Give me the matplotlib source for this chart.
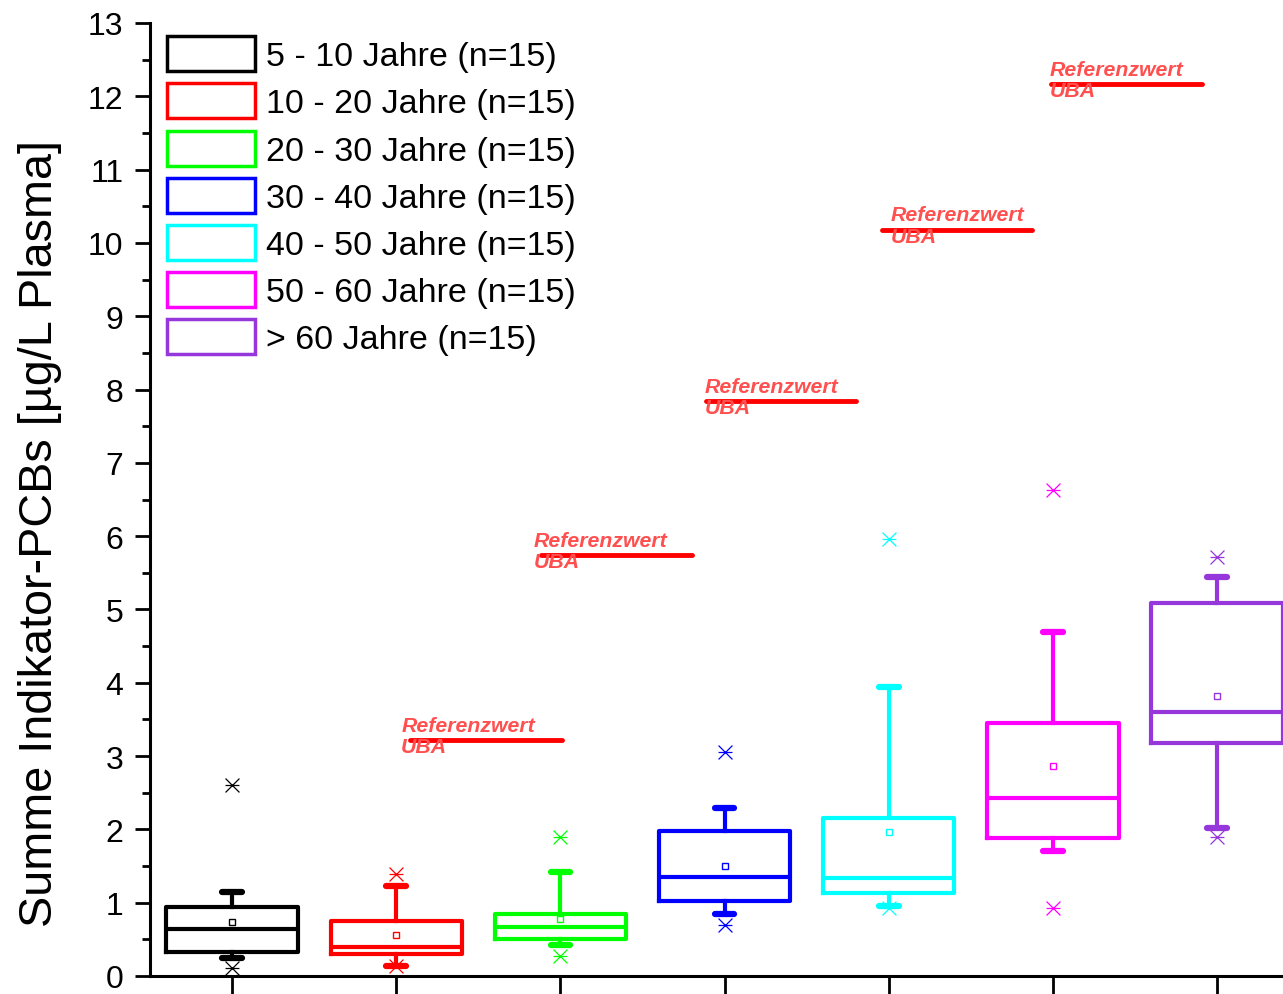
import numpy as np
import matplotlib
matplotlib.use("Agg")
import matplotlib.pyplot as plt
from matplotlib.patches import Patch
from matplotlib.path import Path

plt.rcParams['font.family'] = ['Liberation Sans', 'DejaVu Sans']

# Altersgruppen und Boxplot-Kennwerte
gruppen = ['5 - 10 Jahre (n=15)', '10 - 20 Jahre (n=15)', '20 - 30 Jahre (n=15)',
           '30 - 40 Jahre (n=15)', '40 - 50 Jahre (n=15)', '50 - 60 Jahre (n=15)',
           '> 60 Jahre (n=15)']
farben = ['#000000', '#FF0000', '#00FF00', '#0000FF', '#00FFFF', '#FF00FF', '#9637DC']

q1 = [0.33, 0.30, 0.50, 1.02, 1.13, 1.88, 3.18]
median = [0.64, 0.40, 0.67, 1.35, 1.34, 2.43, 3.60]
q3 = [0.94, 0.75, 0.85, 1.98, 2.16, 3.45, 5.09]
whisk_lo = [0.25, 0.14, 0.42, 0.85, 0.95, 1.70, 2.02]
whisk_hi = [1.15, 1.23, 1.42, 2.29, 3.94, 4.69, 5.44]
mittel = [0.74, 0.56, 0.78, 1.50, 1.96, 2.87, 3.82]
ausr_lo = [0.11, 0.14, 0.27, 0.70, 0.93, 0.93, 1.90]
ausr_hi = [2.61, 1.39, 1.90, 3.06, 5.96, 6.63, 5.72]

# Referenzwerte UBA
ref_werte = [3.22, 5.74, 7.84, 10.18, 12.17]
ref_linie_x = [(2.085, 3.01), (2.88, 3.80), (3.89, 4.80), (4.96, 5.87), (5.99, 6.91)]
ref_text_x = [2.03, 2.84, 3.88, 5.01, 5.98]

# Sternmarker (x mit Querstrich)
stern = Path([(-1, -1), (1, 1), (-1, 1), (1, -1), (-1, 0), (1, 0)],
             [Path.MOVETO, Path.LINETO, Path.MOVETO, Path.LINETO, Path.MOVETO, Path.LINETO])

fig = plt.figure(figsize=(12.83, 9.95), dpi=100)
ax = fig.add_axes([150/1283, 18/995, 1133/1283, 953/995])

for i in range(len(gruppen)):
    st = [dict(med=median[i], q1=q1[i], q3=q3[i], whislo=whisk_lo[i], whishi=whisk_hi[i],
               mean=mittel[i], fliers=[ausr_lo[i], ausr_hi[i]])]
    c = farben[i]
    ax.bxp(st, positions=[i + 1], widths=0.8, showmeans=True, capwidths=0.12,
           boxprops=dict(color=c, linewidth=3),
           medianprops=dict(color=c, linewidth=3),
           whiskerprops=dict(color=c, linewidth=3),
           capprops=dict(color=c, linewidth=4.5, solid_capstyle='round'),
           meanprops=dict(marker='s', markersize=5, markerfacecolor='none',
                          markeredgecolor=c, markeredgewidth=1),
           flierprops=dict(marker=stern, markersize=10, markeredgecolor=c,
                           markeredgewidth=0.9, linestyle='none'))

for w, (x0, x1), xt in zip(ref_werte, ref_linie_x, ref_text_x):
    ax.plot([x0, x1], [w, w], color='#FF0000', linewidth=3.5, solid_capstyle='round')
    ax.annotate('Referenzwert\nUBA', xy=(xt, w), xytext=(0, 3), textcoords='offset points',
                ha='left', va='center', color='#FF4F4F', fontsize=15.3,
                fontweight='bold', fontstyle='italic', linespacing=1.15)

ax.set_xlim(0.5, 7.402)
ax.set_ylim(0, 13)
ax.set_xticks(range(1, 8))
ax.set_xticklabels([])
ax.set_yticks(range(0, 14))
ax.set_yticks(np.arange(0.5, 13, 1), minor=True)
ax.spines['top'].set_visible(False)
ax.spines['right'].set_visible(False)
ax.spines['left'].set_linewidth(2.2)
ax.spines['bottom'].set_linewidth(2.2)
ax.tick_params(axis='y', which='major', direction='out', length=11, width=2,
               labelsize=23, pad=8)
ax.tick_params(axis='y', which='minor', direction='out', length=6, width=2)
ax.tick_params(axis='x', which='major', direction='out', length=13, width=2)

fig.text(40/1283, 1 - 534/995, 'Summe Indikator-PCBs [µg/L Plasma]', rotation=90,
         ha='center', va='center', fontsize=33.7)

handles = [Patch(facecolor='none', edgecolor=c, linewidth=2.5) for c in farben]
ax.legend(handles, gruppen, loc='upper left', bbox_to_anchor=(0.015, 0.986),
          frameon=False, fontsize=24.5, handlelength=2.6, handleheight=1.2,
          handletextpad=0.3, labelspacing=0.33, borderpad=0, borderaxespad=0)

fig.savefig('out.png', dpi=100)
